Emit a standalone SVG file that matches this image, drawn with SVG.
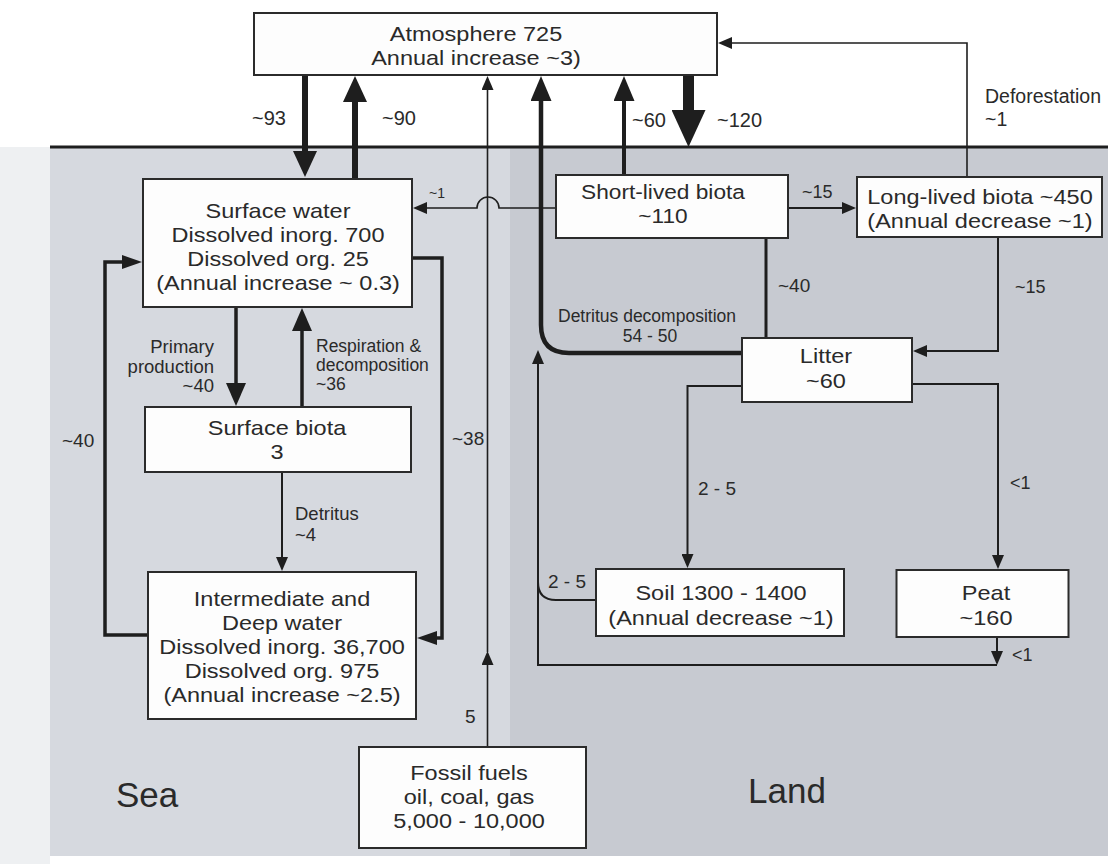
<svg xmlns="http://www.w3.org/2000/svg" width="1108" height="864" viewBox="0 0 1108 864">
<style>
.box{fill:#fdfdfd;stroke:#2b2b2b;stroke-width:2}
.t{font-family:"Liberation Sans",Arial,Helvetica,sans-serif;fill:#2a2a2a}
.bt{font-family:"Liberation Sans",Arial,Helvetica,sans-serif;fill:#2a2a2a;font-size:21px;text-anchor:middle}
.lb{font-size:19px}
.sm{font-size:18px}
.c{fill:none;stroke:#1e1e1e;stroke-linejoin:miter}
.ah{fill:#1e1e1e}
</style>
<defs>
<marker id="mHuge" markerUnits="userSpaceOnUse" viewBox="0 -17 37 34" markerWidth="37" markerHeight="34" refX="1" refY="0" orient="auto"><path class="ah" d="M0,-17 L37,0 L0,17 Z"/></marker>
<marker id="mBig" markerUnits="userSpaceOnUse" viewBox="0 -12 26 24" markerWidth="26" markerHeight="24" refX="1" refY="0" orient="auto"><path class="ah" d="M0,-12 L26,0 L0,12 Z"/></marker>
<marker id="mMed" markerUnits="userSpaceOnUse" viewBox="0 -10.5 25 21" markerWidth="25" markerHeight="21" refX="1" refY="0" orient="auto"><path class="ah" d="M0,-10.5 L25,0 L0,10.5 Z"/></marker>
<marker id="mProd" markerUnits="userSpaceOnUse" viewBox="0 -10 23 20" markerWidth="23" markerHeight="20" refX="1" refY="0" orient="auto"><path class="ah" d="M0,-10 L23,0 L0,10 Z"/></marker>
<marker id="mLoop" markerUnits="userSpaceOnUse" viewBox="0 -7 20 14" markerWidth="20" markerHeight="14" refX="1" refY="0" orient="auto"><path class="ah" d="M0,-7 L20,0 L0,7 Z"/></marker>
<marker id="mThin" markerUnits="userSpaceOnUse" viewBox="0 -6 14 12" markerWidth="14" markerHeight="12" refX="1" refY="0" orient="auto"><path class="ah" d="M0,-6 L14,0 L0,6 Z"/></marker>
</defs>

<rect x="0" y="0" width="1108" height="864" fill="#ffffff"/>
<rect x="0" y="147" width="50" height="717" fill="#eef0f2"/>
<rect x="50" y="147" width="460" height="709" fill="#d6d9df"/>
<rect x="510" y="147" width="598" height="709" fill="#c7cad1"/>
<line x1="50" y1="147" x2="1108" y2="147" stroke="#1e1e1e" stroke-width="3"/>

<g id="connectors">
<path class="c" stroke-width="6" d="M305,75 V152" marker-end="url(#mBig)"/>
<path class="c" stroke-width="6" d="M355,179 V101" marker-end="url(#mBig)"/>
<path class="c" stroke-width="11" d="M688.5,75 V111" marker-end="url(#mHuge)"/>
<path class="c" stroke-width="4" d="M624,175 V100" marker-end="url(#mMed)"/>
<path class="c" stroke-width="4.5" d="M742,353 H569 Q541,353 541,325 V100" marker-end="url(#mMed)"/>
<path class="c" stroke-width="1.6" d="M487.5,747 V664" marker-end="url(#mThin)"/>
<path class="c" stroke-width="1.6" d="M487.5,652 V89" marker-end="url(#mThin)"/>
<path class="c" stroke-width="1.6" d="M967,177 V43 H731" marker-end="url(#mThin)"/>
<path class="c" stroke-width="1.6" d="M556,208 H499 A11,11 0 0 0 477,208 H426" marker-end="url(#mThin)"/>
<path class="c" stroke-width="2" d="M788,208 H843" marker-end="url(#mThin)"/>
<path class="c" stroke-width="3" d="M766,238 V338"/>
<path class="c" stroke-width="2" d="M998,237 V351 H926" marker-end="url(#mThin)"/>
<path class="c" stroke-width="2" d="M742,386 H687.5 V555" marker-end="url(#mThin)"/>
<path class="c" stroke-width="2" d="M912,384 H998 V556" marker-end="url(#mThin)"/>
<path class="c" stroke-width="2" d="M596,600 H556 Q538,600 538,582"/>
<path class="c" stroke-width="2" d="M997,637 V652" marker-end="url(#mThin)"/>
<path class="c" stroke-width="2" d="M997,665 H538 V363" marker-end="url(#mThin)"/>
<path class="c" stroke-width="3.5" d="M148,635 H105 V262 H123" marker-end="url(#mLoop)"/>
<path class="c" stroke-width="3.5" d="M412,258 H442 V638 H436" marker-end="url(#mLoop)"/>
<path class="c" stroke-width="3.5" d="M236,307 V384" marker-end="url(#mProd)"/>
<path class="c" stroke-width="3.5" d="M302,407 V330" marker-end="url(#mProd)"/>
<path class="c" stroke-width="2" d="M282,472 V558" marker-end="url(#mThin)"/>
</g>

<g id="connector-labels" class="t">
<text x="252" y="125" font-size="20">~93</text>
<text x="382" y="125" font-size="20">~90</text>
<text x="632" y="127" font-size="20">~60</text>
<text x="717" y="127" font-size="20">~120</text>
<text x="985" y="103" font-size="19.5">Deforestation</text>
<text x="985" y="126" font-size="19.5">~1</text>
<text x="429" y="198" font-size="14">~1</text>
<text class="sm" x="802" y="198">~15</text>
<text x="214" y="353" text-anchor="end" font-size="18.5">Primary</text>
<text x="214" y="372.5" text-anchor="end" font-size="18.5">production</text>
<text x="214" y="392" text-anchor="end" font-size="18.5">~40</text>
<text x="316" y="352" font-size="17.5">Respiration &amp;</text>
<text x="316" y="371" font-size="17.5">decomposition</text>
<text x="316" y="390" font-size="17.5">~36</text>
<text class="lb" x="62" y="447">~40</text>
<text class="lb" x="452" y="445">~38</text>
<text x="295" y="520" font-size="18.5">Detritus</text>
<text x="295" y="541" font-size="18.5">~4</text>
<text class="lb" x="465" y="723">5</text>
<text class="lb" x="778" y="292">~40</text>
<text class="sm" x="1015" y="293">~15</text>
<text x="558" y="322" font-size="17.5">Detritus decomposition</text>
<text x="650" y="342" text-anchor="middle" font-size="17.5">54 - 50</text>
<text class="lb" x="698" y="495">2 - 5</text>
<text class="sm" x="1010" y="489">&lt;1</text>
<text class="lb" x="548" y="588">2 - 5</text>
<text class="sm" x="1012" y="661">&lt;1</text>
</g>

<g id="atmosphere">
<rect class="box" x="254" y="13" width="463" height="62"/>
<g transform="translate(476 0) scale(1.12 1)">
<text class="bt" x="0" y="41">Atmosphere 725</text>
<text class="bt" x="0" y="65">Annual increase ~3)</text>
</g>
</g>
<g id="surface-water">
<rect class="box" x="143" y="179" width="269" height="128"/>
<g transform="translate(278 0) scale(1.12 1)">
<text class="bt" x="0" y="218">Surface water</text>
<text class="bt" x="0" y="242">Dissolved inorg. 700</text>
<text class="bt" x="0" y="266">Dissolved org. 25</text>
<text class="bt" x="0" y="290">(Annual increase ~ 0.3)</text>
</g>
</g>
<g id="surface-biota">
<rect class="box" x="145" y="407" width="266" height="65"/>
<g transform="translate(277 0) scale(1.12 1)">
<text class="bt" x="0" y="435">Surface biota</text>
<text class="bt" x="0" y="459">3</text>
</g>
</g>
<g id="deep-water">
<rect class="box" x="148" y="572" width="268" height="147"/>
<g transform="translate(282 0) scale(1.12 1)">
<text class="bt" x="0" y="606">Intermediate and</text>
<text class="bt" x="0" y="630">Deep water</text>
<text class="bt" x="0" y="654">Dissolved inorg. 36,700</text>
<text class="bt" x="0" y="678">Dissolved org. 975</text>
<text class="bt" x="0" y="702">(Annual increase ~2.5)</text>
</g>
</g>
<g id="fossil-fuels">
<rect class="box" x="359" y="747" width="227" height="101"/>
<g transform="translate(469 0) scale(1.12 1)">
<text class="bt" x="0" y="780">Fossil fuels</text>
<text class="bt" x="0" y="804">oil, coal, gas</text>
<text class="bt" x="0" y="828">5,000 - 10,000</text>
</g>
</g>
<g id="short-lived-biota">
<rect class="box" x="556" y="175" width="232" height="63"/>
<g transform="translate(663 0) scale(1.08 1)">
<text class="bt" x="0" y="199">Short-lived biota</text>
<text class="bt" x="0" y="223">~110</text>
</g>
</g>
<g id="long-lived-biota">
<rect class="box" x="857" y="177" width="245" height="60"/>
<g transform="translate(980 0) scale(1.12 1)">
<text class="bt" x="0" y="204">Long-lived biota ~450</text>
<text class="bt" x="0" y="228">(Annual decrease ~1)</text>
</g>
</g>
<g id="litter">
<rect class="box" x="742" y="338" width="170" height="64"/>
<g transform="translate(826 0) scale(1.12 1)">
<text class="bt" x="0" y="363">Litter</text>
<text class="bt" x="0" y="388">~60</text>
</g>
</g>
<g id="soil">
<rect class="box" x="596" y="569" width="248" height="67"/>
<g transform="translate(721 0) scale(1.12 1)">
<text class="bt" x="0" y="600">Soil 1300 - 1400</text>
<text class="bt" x="0" y="625">(Annual decrease ~1)</text>
</g>
</g>
<g id="peat">
<rect class="box" x="896.5" y="570" width="172" height="67"/>
<g transform="translate(986 0) scale(1.12 1)">
<text class="bt" x="0" y="600">Peat</text>
<text class="bt" x="0" y="625">~160</text>
</g>
</g>

<text class="t" x="116" y="807" font-size="35">Sea</text>
<text class="t" x="748" y="803" font-size="35">Land</text>
</svg>
